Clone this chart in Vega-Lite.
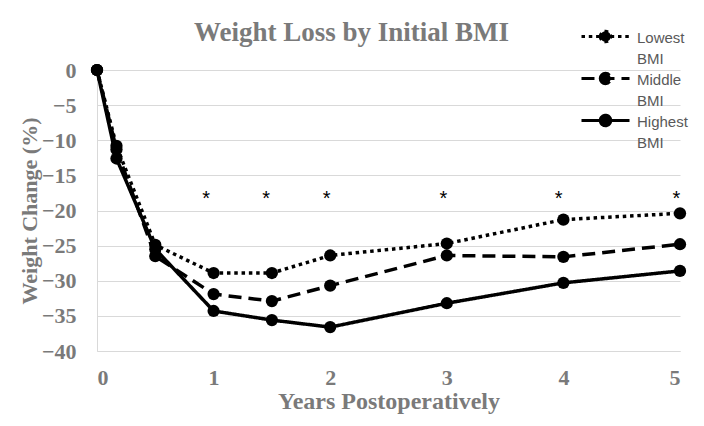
{
  "$schema": "https://vega.github.io/schema/vega-lite/v6.json",
  "width": 583,
  "height": 281,
  "autosize": {"type": "none"},
  "padding": {"left": 97, "top": 70, "right": 24, "bottom": 75},
  "background": "white",
  "title": {
    "text": "Weight Loss by Initial BMI",
    "font": "Liberation Serif",
    "fontSize": 27,
    "fontWeight": "bold",
    "color": "#7a7a7a",
    "anchor": "middle",
    "baseline": "alphabetic",
    "dx": -37,
    "offset": -40
  },
  "config": {
    "view": {"stroke": null},
    "axis": {
      "labelFont": "Liberation Serif",
      "labelFontWeight": "bold",
      "labelFontSize": 22,
      "labelColor": "#7a7a7a",
      "titleFont": "Liberation Serif",
      "titleFontWeight": "bold",
      "titleFontSize": 22,
      "titleColor": "#7a7a7a",
      "ticks": false,
      "domainColor": "#d9d9d9",
      "gridColor": "#d9d9d9"
    }
  },
  "datasets": {
    "series": [
      {"year": 0, "change": 0, "group": "Lowest BMI"},
      {"year": 0.167, "change": -10.8, "group": "Lowest BMI"},
      {"year": 0.5, "change": -24.9, "group": "Lowest BMI"},
      {"year": 1, "change": -28.9, "group": "Lowest BMI"},
      {"year": 1.5, "change": -28.9, "group": "Lowest BMI"},
      {"year": 2, "change": -26.4, "group": "Lowest BMI"},
      {"year": 3, "change": -24.7, "group": "Lowest BMI"},
      {"year": 4, "change": -21.3, "group": "Lowest BMI"},
      {"year": 5, "change": -20.4, "group": "Lowest BMI"},
      {"year": 0, "change": 0, "group": "Middle BMI"},
      {"year": 0.167, "change": -11.3, "group": "Middle BMI"},
      {"year": 0.5, "change": -26.5, "group": "Middle BMI"},
      {"year": 1, "change": -31.9, "group": "Middle BMI"},
      {"year": 1.5, "change": -32.9, "group": "Middle BMI"},
      {"year": 2, "change": -30.7, "group": "Middle BMI"},
      {"year": 3, "change": -26.4, "group": "Middle BMI"},
      {"year": 4, "change": -26.6, "group": "Middle BMI"},
      {"year": 5, "change": -24.8, "group": "Middle BMI"},
      {"year": 0, "change": 0, "group": "Highest BMI"},
      {"year": 0.167, "change": -12.6, "group": "Highest BMI"},
      {"year": 0.5, "change": -25.5, "group": "Highest BMI"},
      {"year": 1, "change": -34.3, "group": "Highest BMI"},
      {"year": 1.5, "change": -35.6, "group": "Highest BMI"},
      {"year": 2, "change": -36.6, "group": "Highest BMI"},
      {"year": 3, "change": -33.2, "group": "Highest BMI"},
      {"year": 4, "change": -30.3, "group": "Highest BMI"},
      {"year": 5, "change": -28.6, "group": "Highest BMI"}
    ],
    "stars": [
      {"year": 0.935, "change": -18.3, "mark": "*"},
      {"year": 1.45, "change": -18.3, "mark": "*"},
      {"year": 1.97, "change": -18.3, "mark": "*"},
      {"year": 2.97, "change": -18.3, "mark": "*"},
      {"year": 3.96, "change": -18.3, "mark": "*"},
      {"year": 4.97, "change": -18.3, "mark": "*"}
    ]
  },
  "encoding": {
    "x": {
      "field": "year",
      "type": "quantitative",
      "scale": {"domain": [0, 5], "nice": false, "zero": false},
      "axis": {
        "values": [0, 1, 2, 3, 4, 5],
        "grid": false,
        "labelPadding": 16,
        "title": "Years Postoperatively",
        "titleFontSize": 24,
        "titlePadding": 1
      }
    },
    "y": {
      "field": "change",
      "type": "quantitative",
      "scale": {"domain": [-40, 0], "nice": false},
      "axis": {
        "values": [0, -5, -10, -15, -20, -25, -30, -35, -40],
        "grid": true,
        "labelPadding": 21,
        "title": "Weight Change (%)",
        "titlePadding": 0
      }
    }
  },
  "layer": [
    {
      "data": {"name": "series"},
      "mark": {"type": "line", "color": "black", "strokeWidth": 3.5, "strokeCap": "butt"},
      "encoding": {
        "strokeDash": {
          "field": "group",
          "type": "nominal",
          "scale": {
            "domain": ["Lowest BMI", "Middle BMI", "Highest BMI"],
            "range": [[3.5, 3.8], [13, 7], [1, 0]]
          },
          "legend": {
            "orient": "none",
            "legendX": 500,
            "legendY": -42,
            "title": null,
            "padding": 0,
            "symbolType": "M-3.43,0H3.43M-0.75,0A0.75,0.75 0 1,0 0.75,0A0.75,0.75 0 1,0 -0.75,0Z",
            "symbolSize": 196,
            "symbolStrokeWidth": 3,
            "symbolStrokeColor": "black",
            "symbolFillColor": "black",
            "labelFont": "Liberation Sans",
            "labelFontSize": 15,
            "labelColor": "#595959",
            "labelExpr": "split(datum.label, ' ')",
            "labelOffset": 23,
            "labelLimit": 120,
            "rowPadding": 0,
            "labelBaseline": "top",
            "encode": {
              "labels": {"update": {"dy": {"value": -6}, "lineHeight": {"value": 21}}}
            }
          }
        }
      }
    },
    {
      "data": {"name": "series"},
      "mark": {"type": "point", "shape": "circle", "filled": true, "color": "black", "size": 150, "opacity": 1},
      "encoding": {"detail": {"field": "group", "type": "nominal"}}
    },
    {
      "data": {"name": "stars"},
      "mark": {"type": "text", "font": "Liberation Sans", "fontSize": 20, "color": "black", "baseline": "middle", "align": "center"},
      "encoding": {"text": {"field": "mark", "type": "nominal"}}
    }
  ]
}
